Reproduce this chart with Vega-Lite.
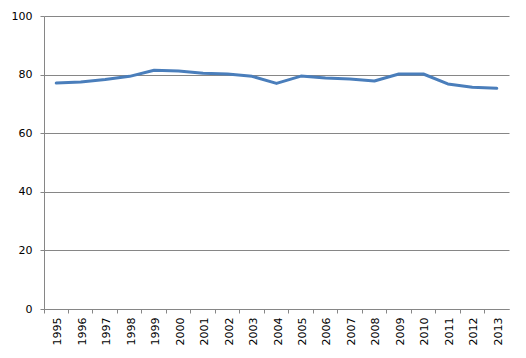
{
  "$schema": "https://vega.github.io/schema/vega-lite/v6.json",
  "width": 465,
  "height": 293,
  "autosize": "none",
  "padding": {"left": 44, "top": 16, "right": 17, "bottom": 49},
  "background": "white",
  "config": {"view": {"stroke": null}},
  "data": {"values": [
    {"year": "1995", "value": 77.1},
    {"year": "1996", "value": 77.5},
    {"year": "1997", "value": 78.3},
    {"year": "1998", "value": 79.4},
    {"year": "1999", "value": 81.5},
    {"year": "2000", "value": 81.2},
    {"year": "2001", "value": 80.5},
    {"year": "2002", "value": 80.2},
    {"year": "2003", "value": 79.4},
    {"year": "2004", "value": 77.0},
    {"year": "2005", "value": 79.5},
    {"year": "2006", "value": 78.8},
    {"year": "2007", "value": 78.5},
    {"year": "2008", "value": 77.8},
    {"year": "2009", "value": 80.2},
    {"year": "2010", "value": 80.2},
    {"year": "2011", "value": 76.8},
    {"year": "2012", "value": 75.7},
    {"year": "2013", "value": 75.3}
  ]},
  "mark": {"type": "line", "color": "#4A7EBB", "strokeWidth": 3, "strokeJoin": "round", "strokeCap": "round"},
  "encoding": {
    "x": {
      "field": "year", "type": "ordinal",
      "scale": {"type": "band", "paddingInner": 0, "paddingOuter": 0},
      "axis": {
        "title": null, "bandPosition": 0, "labelAngle": -90,
        "labelAlign": "right", "labelBaseline": "middle",
        "labelFont": "DejaVu Sans", "labelFontSize": 11, "labelColor": "#000000",
        "domainColor": "#868686", "tickColor": "#868686", "tickSize": 4,
        "labelPadding": 4, "grid": false, "labelOffset": 2
      }
    },
    "y": {
      "field": "value", "type": "quantitative",
      "scale": {"domain": [0, 100], "nice": false},
      "axis": {
        "title": null, "values": [0, 20, 40, 60, 80, 100],
        "labelFont": "DejaVu Sans", "labelFontSize": 11, "labelColor": "#000000",
        "domainColor": "#868686", "tickColor": "#868686", "tickSize": 4,
        "labelPadding": 8, "grid": true, "gridColor": "#868686", "gridOpacity": 1
      }
    }
  }
}
